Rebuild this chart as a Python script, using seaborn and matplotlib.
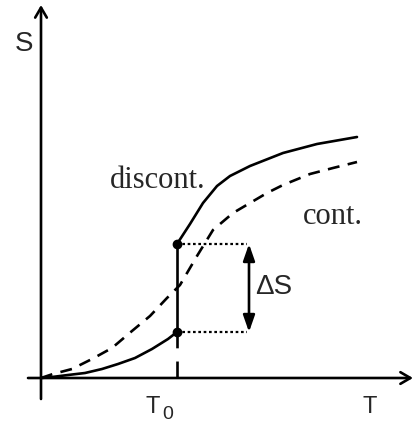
import numpy as np
import pandas as pd
import seaborn as sns
import matplotlib
matplotlib.use("Agg")
import matplotlib.pyplot as plt

sns.set_theme(style="white")
plt.rcParams["font.family"] = ["Liberation Sans", "DejaVu Sans"]

# Entropy S(T) for a discontinuous (first-order) transition: below and above T0
T_disc_low = [0, 11, 27, 44, 61, 77, 94, 111, 127, 136]
S_disc_low = [0, 1, 3, 5, 9, 14, 20, 29, 39, 46]
T_disc_high = [136, 149, 162, 176, 189, 209, 242, 276, 316]
S_disc_high = [134, 154, 175, 192, 202, 212, 225, 234, 241]

# Entropy S(T) for a continuous transition
T_cont = [0, 12, 31, 51, 71, 91, 109, 126, 139, 156, 172, 192, 209, 226, 242, 269, 292, 316]
S_cont = [0, 4, 9, 19, 30, 47, 62, 80, 93, 122, 148, 165, 175, 185, 193, 204, 210, 216]

# Transition temperature and the entropy jump
T0 = 136
S_jump_low, S_jump_high = 46, 134
T_dotted_end = 206
T_arrow = 208

fig = plt.figure(figsize=(4.14, 4.23), dpi=100)
ax = fig.add_axes([0, 0, 1, 1])
ax.set_xlim(-41, 373)
ax.set_ylim(-45, 378)
ax.axis("off")

lw = 1.9
df_low = pd.DataFrame({"T": T_disc_low, "S": S_disc_low})
df_high = pd.DataFrame({"T": T_disc_high, "S": S_disc_high})
df_cont = pd.DataFrame({"T": T_cont, "S": S_cont})

sns.lineplot(data=df_low, x="T", y="S", sort=False, color="black", lw=lw, ax=ax)
sns.lineplot(data=df_high, x="T", y="S", sort=False, color="black", lw=lw, ax=ax)
sns.lineplot(data=df_cont, x="T", y="S", sort=False, color="black", lw=lw, ax=ax,
             linestyle=(0, (4.5, 3.2)))
for line in ax.lines:
    line.set_solid_joinstyle("round")
    line.set_dash_joinstyle("round")

# Coordinate axes with arrowheads
ax.annotate("", xy=(372, 0), xytext=(-13, 0),
            arrowprops=dict(arrowstyle="->,head_length=0.6,head_width=0.35",
                            lw=1.9, color="black", mutation_scale=12,
                            shrinkA=0, shrinkB=0))
ax.annotate("", xy=(0, 373), xytext=(0, -21),
            arrowprops=dict(arrowstyle="->,head_length=0.6,head_width=0.35",
                            lw=1.9, color="black", mutation_scale=12,
                            shrinkA=0, shrinkB=0))

# Jump at T0: solid segment plus dashed guide to the axis
ax.plot([T0, T0], [S_jump_low, S_jump_high], color="black", lw=lw)
ax.plot([T0, T0], [S_jump_low, -11], color="black", lw=lw, linestyle=(0, (6, 5)))
ax.plot([T0, T0], [S_jump_low, S_jump_high], "o", color="black", ms=6)

# Dotted guides and the double-headed Delta S arrow
ax.plot([T0, T_dotted_end], [S_jump_high, S_jump_high], color="black", lw=1.6,
        linestyle=(0, (1.2, 1.2)))
ax.plot([T0, T_dotted_end], [S_jump_low, S_jump_low], color="black", lw=1.6,
        linestyle=(0, (1.2, 1.2)))
ax.annotate("", xy=(T_arrow, S_jump_high), xytext=(T_arrow, S_jump_low),
            arrowprops=dict(arrowstyle="<|-|>,head_length=1.0,head_width=0.35",
                            lw=1.9, color="black", mutation_scale=10,
                            shrinkA=0, shrinkB=0))

# Labels
ax.text(-17, 334, "S", fontsize=20, ha="center", va="center")
ax.text(329, -29, "T", fontsize=17, ha="center", va="center")
ax.text(112, -29, "T", fontsize=17, ha="center", va="center")
ax.text(127, -36, "0", fontsize=14, ha="center", va="center")
ax.text(214, 91, "ΔS", fontsize=20, ha="left", va="center")
ax.text(69, 198, "discont.", fontsize=22, ha="left", va="center",
        fontfamily="Liberation Serif")
ax.text(262, 162, "cont.", fontsize=22, ha="left", va="center",
        fontfamily="Liberation Serif")

fig.savefig("out.png", dpi=100)
